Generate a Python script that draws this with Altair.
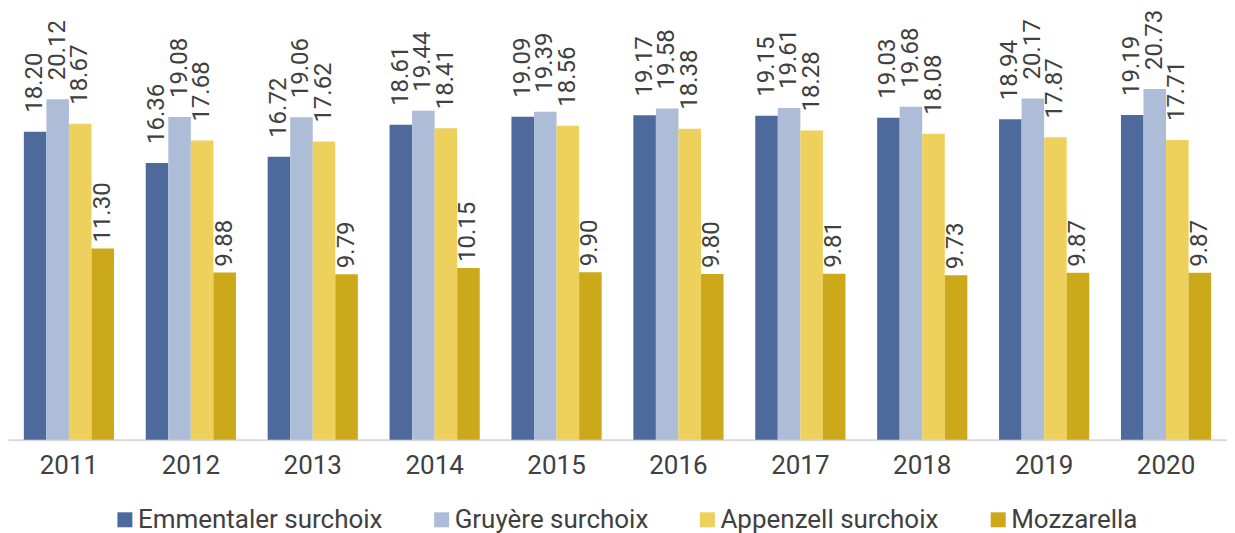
import altair as alt
import pandas as pd

years = ["2011", "2012", "2013", "2014", "2015", "2016", "2017", "2018", "2019", "2020"]
series = ["Emmentaler surchoix", "Gruyère surchoix", "Appenzell surchoix", "Mozzarella"]
emmentaler = [18.20, 16.36, 16.72, 18.61, 19.09, 19.17, 19.15, 19.03, 18.94, 19.19]
gruyere = [20.12, 19.08, 19.06, 19.44, 19.39, 19.58, 19.61, 19.68, 20.17, 20.73]
appenzell = [18.67, 17.68, 17.62, 18.41, 18.56, 18.38, 18.28, 18.08, 17.87, 17.71]
mozzarella = [11.30, 9.88, 9.79, 10.15, 9.90, 9.80, 9.81, 9.73, 9.87, 9.87]
colors = ["#4e6a9c", "#adbdd8", "#edd15c", "#cca91a"]

rows = []
for s, vals in zip(series, [emmentaler, gruyere, appenzell, mozzarella]):
    for y, v in zip(years, vals):
        rows.append({"year": y, "series": s, "value": v, "label": f"{v:.2f}"})
df = pd.DataFrame(rows)

FONT = "Roboto"
TXT = "#404040"
FS = 26
LFS = 24

base = alt.Chart(df).encode(
    x=alt.X("year:N", sort=years, title=None,
            scale=alt.Scale(paddingInner=0.26, paddingOuter=0.13),
            axis=alt.Axis(labelAngle=0, ticks=False, labelFontSize=FS, labelFont=FONT,
                          labelColor=TXT, labelPadding=13, domainColor="#d9d9d9",
                          domainWidth=2)),
    xOffset=alt.XOffset("series:N", sort=series),
    y=alt.Y("value:Q", scale=alt.Scale(domain=[0, 25.5], nice=False), axis=None),
)

bars = base.mark_bar().encode(
    color=alt.Color("series:N", sort=series,
                    scale=alt.Scale(domain=series, range=colors),
                    legend=alt.Legend(title=None, orient="none", direction="horizontal",
                                      legendX=104, legendY=499,
                                      symbolType="square", symbolSize=225, symbolStrokeWidth=0,
                                      labelFontSize=FS, labelFont=FONT, labelColor=TXT,
                                      labelLimit=400, labelOffset=0, columnPadding=46))
)

labels_main = base.mark_text(angle=270, align="left", baseline="middle", dx=19,
                             fontSize=LFS, font=FONT, color=TXT).encode(
    text="label:N"
).transform_filter(alt.datum.series != "Mozzarella")

labels_moz = base.mark_text(angle=270, align="left", baseline="middle", dx=6,
                            fontSize=LFS, font=FONT, color=TXT).encode(
    text="label:N"
).transform_filter(alt.datum.series == "Mozzarella")

chart = alt.layer(bars, labels_main, labels_moz).properties(
    width=1220, height=432,
    autosize=alt.AutoSizeParams(type="none"),
    padding={"top": 0, "left": 0, "right": 0, "bottom": 96},
).configure_view(stroke=None)

chart.save("out.html", embed_options={"renderer": "svg", "actions": False})
